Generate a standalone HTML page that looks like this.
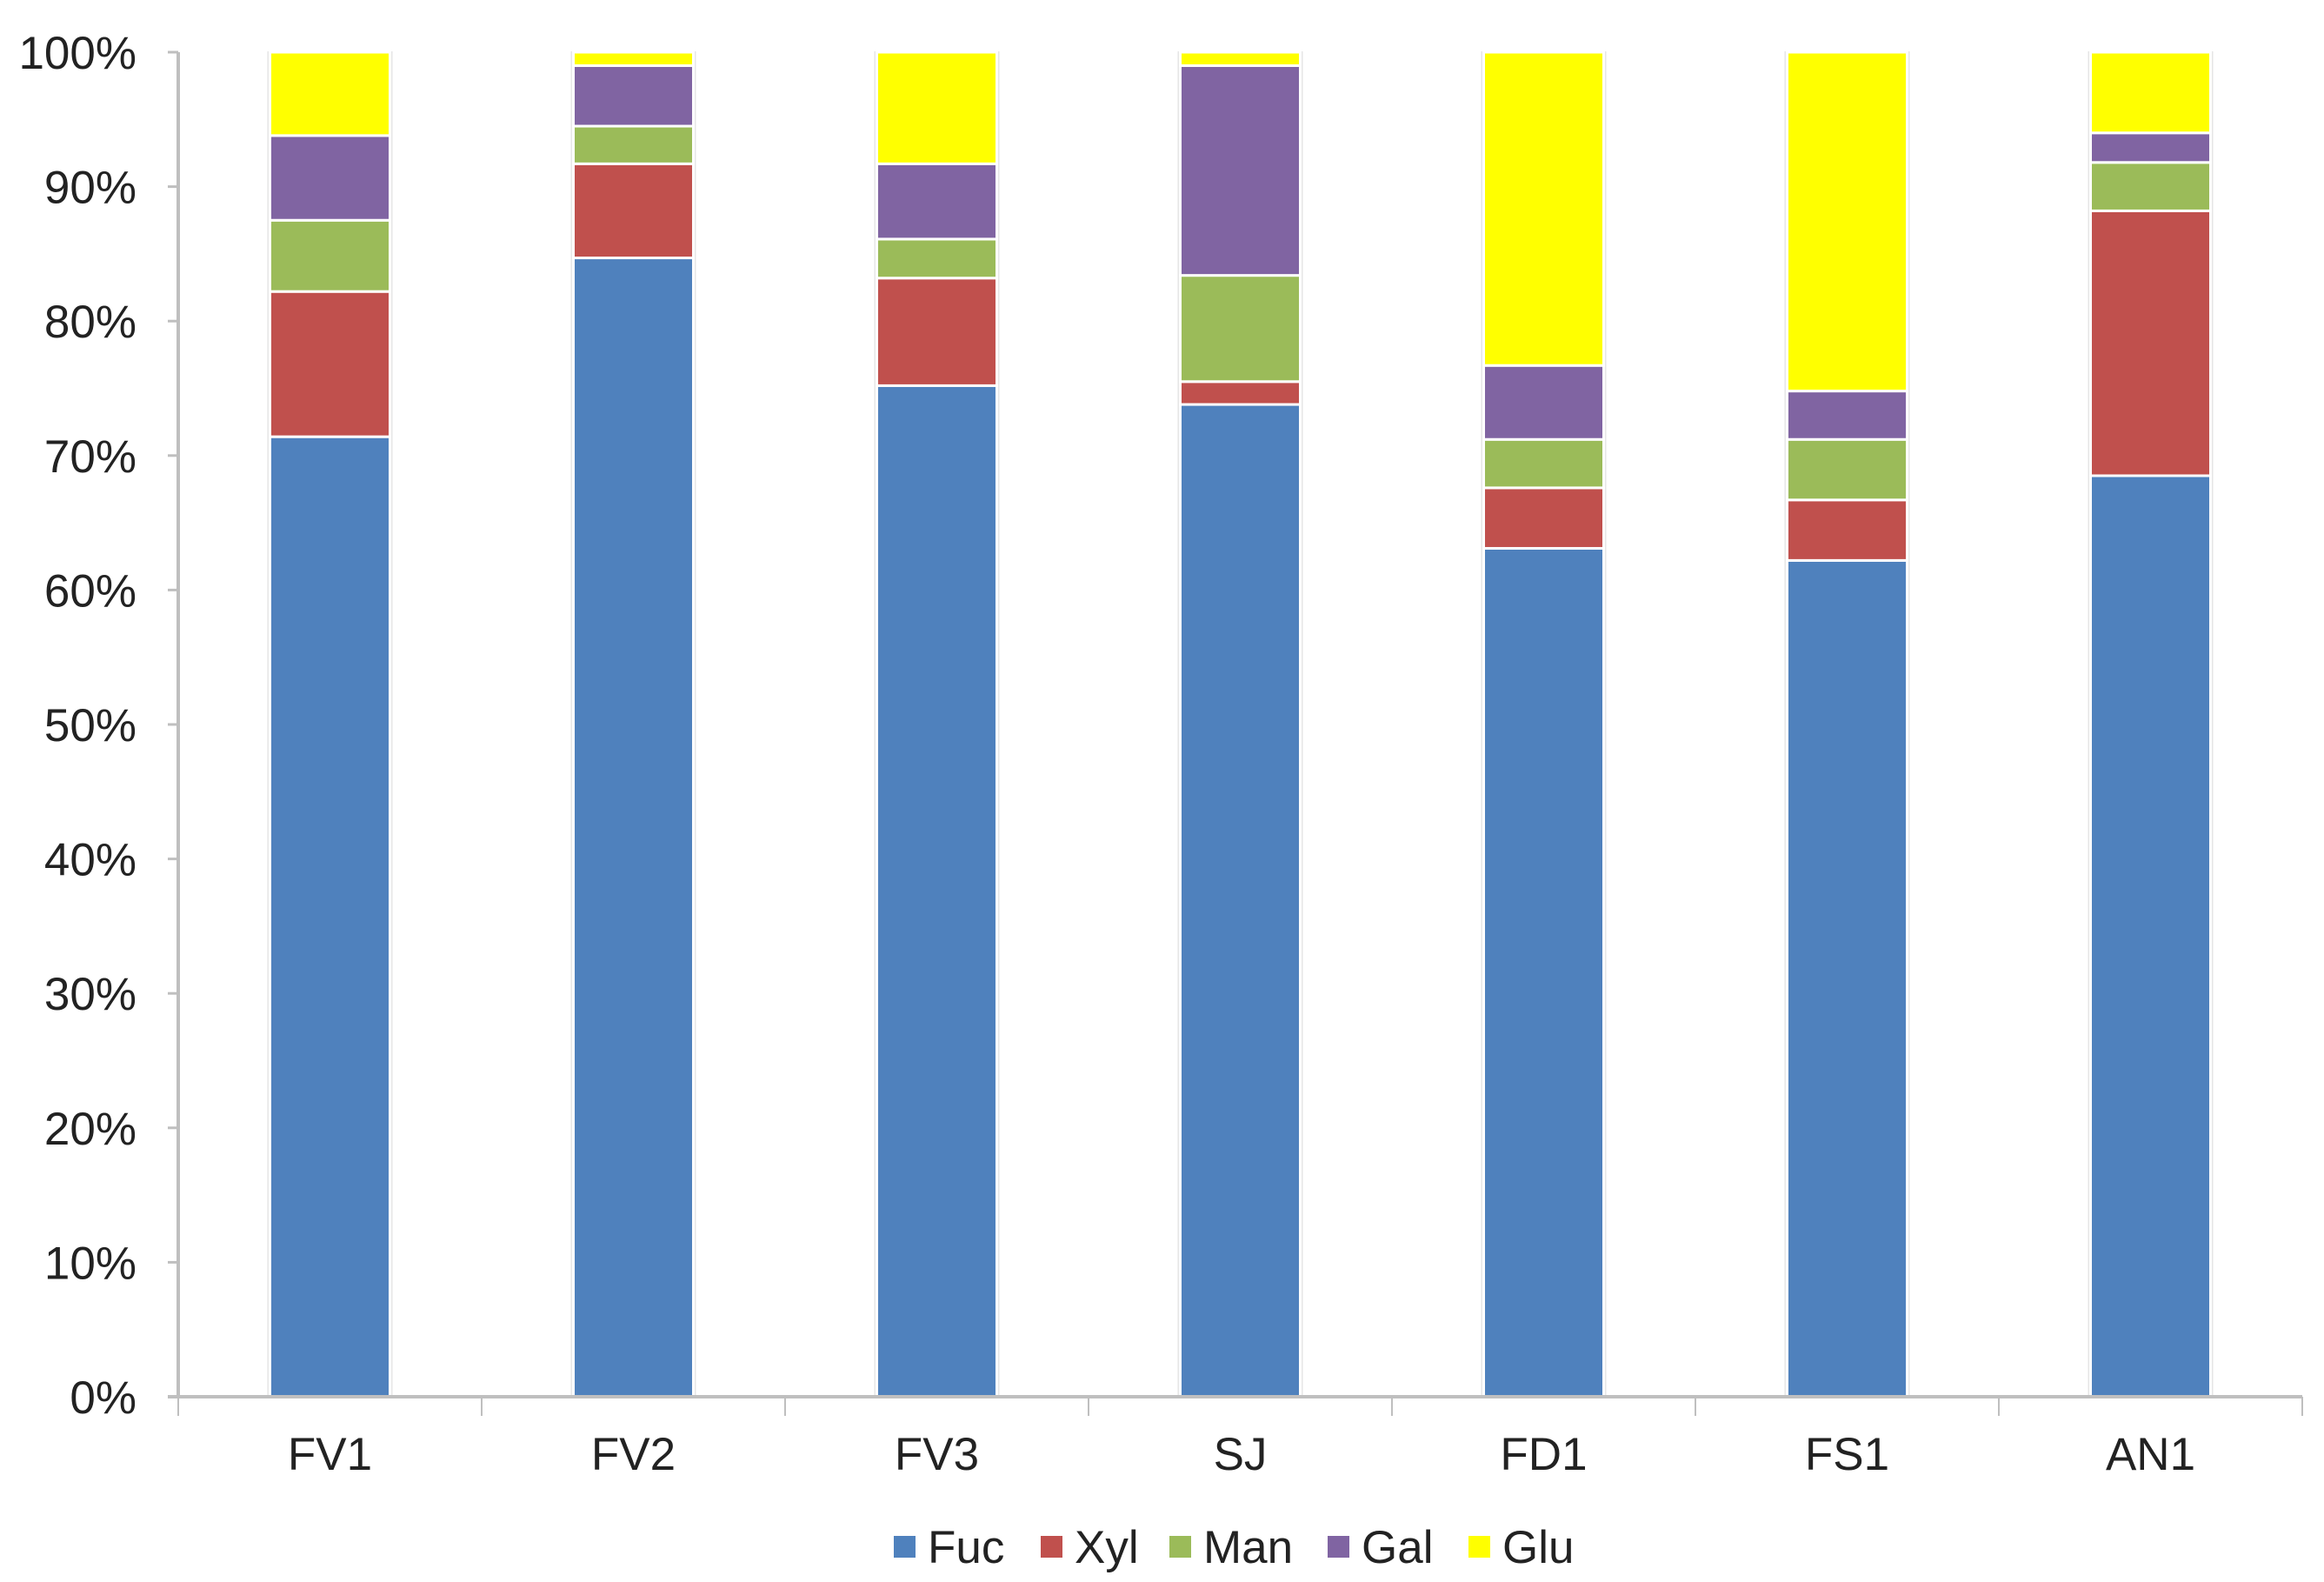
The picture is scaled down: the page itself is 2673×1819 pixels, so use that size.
<!DOCTYPE html>
<html><head><meta charset="utf-8"><style>
html,body{margin:0;padding:0;background:#fff;}
svg{display:block;font-family:"Liberation Sans",sans-serif;}
</style></head><body>
<svg id="chart" width="2673" height="1819" xmlns="http://www.w3.org/2000/svg"></svg>
<script>
const categories = ["FV1","FV2","FV3","SJ","FD1","FS1","AN1"];
const seriesNames = ["Fuc","Xyl","Man","Gal","Glu"];
const fuc = [71.4, 84.7, 75.2, 73.8, 63.1, 62.2, 68.5];
const xyl = [10.8, 7.0, 8.0, 1.7, 4.5, 4.5, 19.7];
const man = [5.3, 2.8, 2.9, 7.9, 3.6, 4.5, 3.6];
const gal = [6.3, 4.5, 5.6, 15.6, 5.5, 3.6, 2.2];
const glu = [6.2, 1.0, 8.3, 1.0, 23.3, 25.2, 6.0];
const tickLabels = ["0%","10%","20%","30%","40%","50%","60%","70%","80%","90%","100%"];
const colors = ["#4f81bd","#c0504d","#9bbb59","#8064a2","#ffff00"];

const NS="http://www.w3.org/2000/svg";
const svg=document.getElementById('chart');
const X0=205, X1=2648, Y0=1606, Y1=60;
const bw=(X1-X0)/categories.length, barW=138;
const y=v=>Y0-(v/100)*(Y0-Y1);
const xc=i=>X0+bw*(i+0.5);
function mk(tag,attrs){const e=document.createElementNS(NS,tag);for(const k in attrs)e.setAttribute(k,attrs[k]);svg.appendChild(e);return e;}

tickLabels.forEach((t,i)=>{
  const v=i*10;
  const tk=mk('line',{x1:X0-12,x2:X0,y1:y(v),y2:y(v),stroke:'#bfbfbf','stroke-width':3});
  
  
  const tx=mk('text',{x:157,y:y(v)+19,'text-anchor':'end','font-size':53,fill:'#222'});
  tx.textContent=t;
  
  
});
const ya=mk('line',{x1:X0,x2:X0,y1:Y1,y2:Y0,stroke:'#bfbfbf','stroke-width':4});



const series=[fuc,xyl,man,gal,glu];
categories.forEach((c,i)=>{
  const sh=mk('rect',{x:xc(i)-barW/2-3,y:Y1-1,width:barW+6,height:Y0-Y1+1,fill:'#e6e6e6'});
  
  
  let acc=0;
  series.forEach((s,k)=>{
    const top=y(acc+s[i]), bot=y(acc);
    const r=mk('rect',{x:xc(i)-barW/2,y:top,width:barW,height:Math.max(0,bot-top),fill:colors[k],stroke:'#fff','stroke-width':3});
    
    
    acc+=s[i];
  });
  const lb=mk('text',{x:xc(i),y:1690,'text-anchor':'middle','font-size':53,fill:'#222'});
  lb.textContent=c;
  
  
});
for(let i=0;i<=categories.length;i++){
  const t=mk('line',{x1:X0+bw*i,x2:X0+bw*i,y1:Y0,y2:1628,stroke:'#bfbfbf','stroke-width':2});
  
  
}
const xa=mk('line',{x1:X0-12,x2:X1,y1:Y0,y2:Y0,stroke:'#bfbfbf','stroke-width':4});



const lx=[1028,1197,1345,1527,1689];
seriesNames.forEach((n,k)=>{
  const sq=mk('rect',{x:lx[k],y:1766,width:25,height:25,fill:colors[k]});
  
  
  const t=mk('text',{x:lx[k]+39,y:1797,'font-size':53,fill:'#222'});
  t.textContent=n;
  
  
});
</script>
</body></html>
